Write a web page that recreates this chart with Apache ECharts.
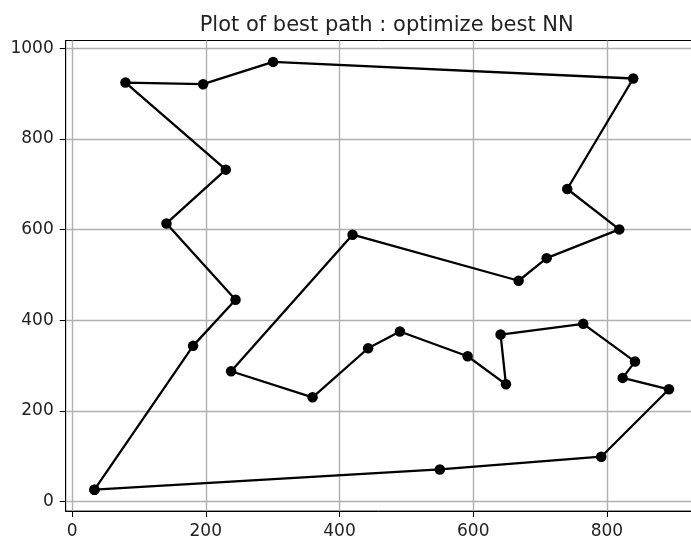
<!DOCTYPE html>
<html>
<head>
<meta charset="utf-8">
<script src="https://cdn.jsdelivr.net/npm/echarts@6/dist/echarts.min.js"></script>
<style>
  html, body { margin: 0; padding: 0; background: #fff; }
  #chart { width: 691px; height: 536px; }
</style>
</head>
<body>
<div id="chart"></div>
<script>
// Tour through the cities, in visiting order (closed back to the start)
const pathX = [33.5, 181.0, 244.5, 141.2, 230.0, 79.9, 196.0, 300.7, 839.3, 740.6,
               818.4, 709.8, 667.9, 419.5, 237.9, 359.7, 442.8, 490.3, 591.6, 648.9,
               640.9, 764.5, 841.9, 823.5, 892.7, 791.4, 550.1];
const pathY = [25.9, 343.5, 445.2, 613.8, 732.5, 924.8, 921.1, 970.4, 933.7, 689.7,
               600.6, 537.1, 487.2, 588.9, 287.4, 229.9, 338.2, 375.1, 320.5, 258.6,
               368.5, 392.1, 308.8, 272.8, 247.6, 98.8, 70.7];

const xTicks = [0, 200, 400, 600, 800];
const yTicks = [0, 200, 400, 600, 800, 1000];

const titleText = 'Plot of best path : optimize best NN';

const points = pathX.map((x, i) => [x, pathY[i]]);
points.push(points[0]);

const FONT = 'DejaVu Sans';
const chart = echarts.init(document.getElementById('chart'), null, { renderer: 'canvas' });

function valueAxis(min, max, ticks) {
  return {
    type: 'value',
    min: min,
    max: max,
    axisLine: { show: true, onZero: false, lineStyle: { color: '#000', width: 1 } },
    axisTick: { show: true, length: 6, customValues: ticks, lineStyle: { color: '#000', width: 1 } },
    axisLabel: {
      show: true, customValues: ticks, margin: 12,
      formatter: (v) => String(v),
      color: '#222', fontFamily: FONT, fontSize: 17
    },
    splitLine: { show: true, lineStyle: { color: '#b0b0b0', width: 1.4 } }
  };
}

chart.setOption({
  animation: false,
  backgroundColor: '#fff',
  title: {
    text: titleText,
    left: 381.7,
    top: 10,
    textAlign: 'center',
    textStyle: { fontFamily: FONT, fontSize: 21, fontWeight: 'normal', color: '#222' }
  },
  grid: {
    left: 65.7, top: 40.5, width: 632, height: 470.6,
    outerBoundsMode: 'none',
    containLabel: false,
    show: true, borderColor: '#000', borderWidth: 1, backgroundColor: 'transparent'
  },
  xAxis: valueAxis(-9.5, 935.7, xTicks),
  yAxis: valueAxis(-21.3, 1017.6, yTicks),
  series: [{
    type: 'line',
    data: points,
    symbol: 'circle',
    symbolSize: 10.5,
    showAllSymbol: true,
    lineStyle: { color: '#000', width: 2.3 },
    itemStyle: { color: '#000' },
    emphasis: { disabled: true }
  }]
});
</script>
</body>
</html>
